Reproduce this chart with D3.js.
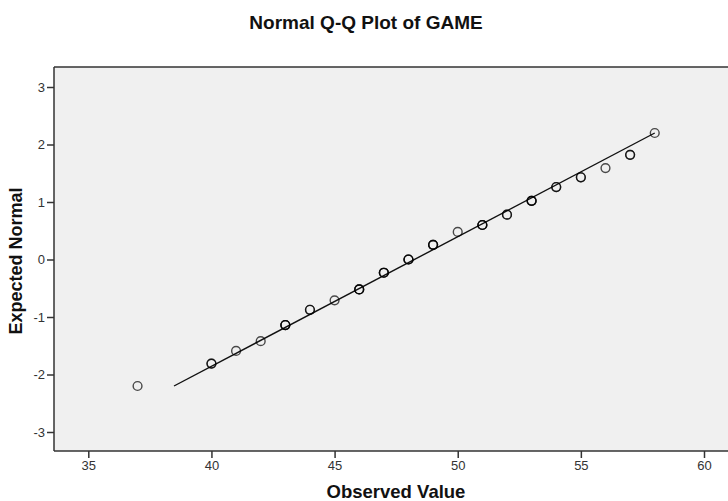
<!DOCTYPE html>
<html>
<head>
<meta charset="utf-8">
<script src="https://cdn.jsdelivr.net/npm/d3@7"></script>
<style>
  html, body { margin: 0; padding: 0; background: #fff; }
  svg { display: block; font-family: Arial, "Liberation Sans", sans-serif; }
</style>
</head>
<body>
<svg id="chart" width="728" height="501"></svg>
<script>
// Observed GAME scores and their expected normal quantiles
const observed = [37, 40, 41, 42, 43, 44, 45, 46, 47, 48, 49, 50, 51, 52, 53, 54, 55, 56, 57, 58];
const expectedNormal = [-2.20, -1.81, -1.59, -1.42, -1.14, -0.875, -0.71, -0.52, -0.23, 0.0,
                        0.255, 0.48, 0.60, 0.78, 1.02, 1.26, 1.43, 1.59, 1.82, 2.20];
// number of cases sharing each observed value (overlapping circles)
const caseCounts = [1, 2, 1, 1, 3, 2, 1, 3, 3, 3, 3, 1, 3, 2, 3, 2, 2, 1, 2, 1];
// reference line endpoints (observed, expected)
const refLineX = [38.48, 58];
const refLineY = [-2.20, 2.20];

const xTicks = [35, 40, 45, 50, 55, 60];
const yTicks = [-3, -2, -1, 0, 1, 2, 3];

const svg = d3.select("#chart");
const plotLeft = 54, plotRight = 728, plotTop = 67, plotBottom = 451;

const x = d3.scaleLinear().domain([35, 60]).range([88.3, 704]);
const y = d3.scaleLinear().domain([-3, 3]).range([432, 87]);

// plot area
svg.append("rect")
  .attr("x", plotLeft).attr("y", plotTop)
  .attr("width", plotRight - plotLeft).attr("height", plotBottom - plotTop)
  .attr("fill", "#f0f0f0");

// frame: top border
svg.append("line")
  .attr("x1", plotLeft).attr("x2", plotRight)
  .attr("y1", plotTop).attr("y2", plotTop)
  .attr("stroke", "#333").attr("stroke-width", 1.5);

// axes (plain hyphen for negative labels)
const fmt = d => String(d);
const xAxis = svg.append("g")
  .attr("transform", `translate(0,${plotBottom})`)
  .call(d3.axisBottom(x).tickValues(xTicks).tickFormat(fmt).tickSize(7).tickPadding(3).tickSizeOuter(0));
const yAxis = svg.append("g")
  .attr("transform", `translate(${plotLeft},0)`)
  .call(d3.axisLeft(y).tickValues(yTicks).tickFormat(fmt).tickSize(7).tickPadding(2).tickSizeOuter(0));

[xAxis, yAxis].forEach(g => {
  g.select(".domain").remove();
  g.selectAll(".tick line").attr("stroke", "#333").attr("stroke-width", 1.5);
  g.selectAll(".tick text")
    .attr("fill", "#333")
    .style("font-size", "13px")
    .style("font-family", "Arial, 'Liberation Sans', sans-serif");
});

// axis lines
svg.append("line")
  .attr("x1", plotLeft).attr("x2", plotRight)
  .attr("y1", plotBottom).attr("y2", plotBottom)
  .attr("stroke", "#333").attr("stroke-width", 1.5);
svg.append("line")
  .attr("x1", plotLeft).attr("x2", plotLeft)
  .attr("y1", plotTop).attr("y2", plotBottom)
  .attr("stroke", "#333").attr("stroke-width", 1.5);

// reference line
svg.append("line")
  .attr("x1", x(refLineX[0])).attr("y1", y(refLineY[0]))
  .attr("x2", x(refLineX[1])).attr("y2", y(refLineY[1]))
  .attr("stroke", "#111").attr("stroke-width", 1.4);

// points: one hollow circle per case
const cases = [];
observed.forEach((v, i) => {
  for (let k = 0; k < caseCounts[i]; k++) cases.push({ v, q: expectedNormal[i] });
});
svg.append("g")
  .selectAll("circle")
  .data(cases)
  .join("circle")
  .attr("cx", d => x(d.v))
  .attr("cy", d => y(d.q))
  .attr("r", 4.4)
  .attr("fill", "none")
  .attr("stroke", "#000")
  .attr("stroke-opacity", 0.7)
  .attr("stroke-width", 1.4);

// titles
svg.append("text")
  .attr("x", 366).attr("y", 29)
  .attr("text-anchor", "middle")
  .attr("font-weight", "bold")
  .attr("font-size", 19)
  .attr("fill", "#111")
  .text("Normal Q-Q Plot of GAME");

svg.append("text")
  .attr("x", 396).attr("y", 498)
  .attr("text-anchor", "middle")
  .attr("font-weight", "bold")
  .attr("font-size", 18.5)
  .attr("fill", "#111")
  .text("Observed Value");

svg.append("text")
  .attr("transform", "translate(22,261) rotate(-90)")
  .attr("text-anchor", "middle")
  .attr("font-weight", "bold")
  .attr("font-size", 18)
  .attr("fill", "#111")
  .text("Expected Normal");
</script>
</body>
</html>
